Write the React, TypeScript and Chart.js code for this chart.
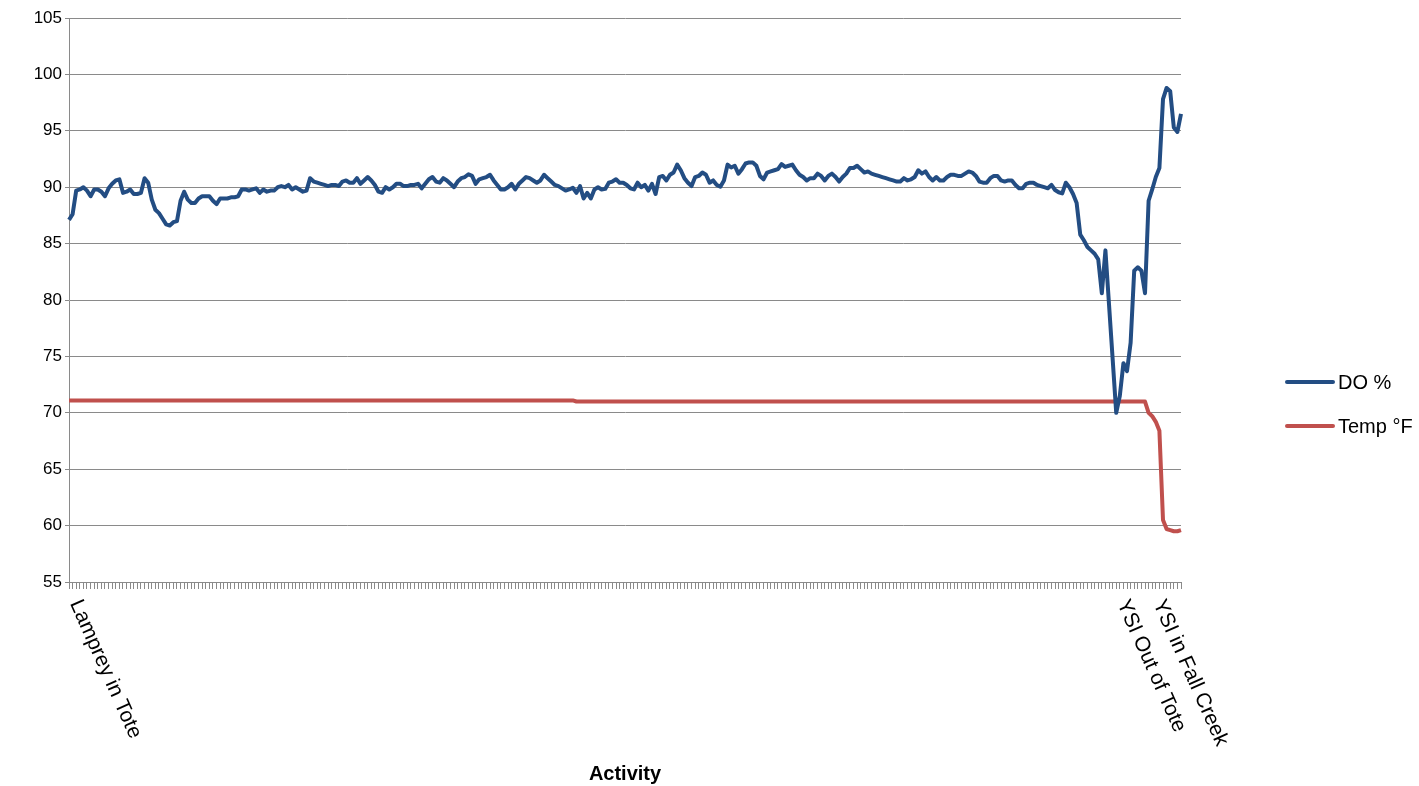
import React, { useEffect, useRef } from "react";
import { Chart, registerables } from "chart.js";

Chart.register(...registerables);

// Dissolved oxygen (%) per logged activity step
const DO_PERCENT: number[] = [
  87.1, 87.6, 89.7, 89.8, 90.0, 89.7, 89.2, 89.8, 89.8, 89.6,
  89.2, 89.9, 90.3, 90.6, 90.7, 89.5, 89.6, 89.8, 89.4, 89.4,
  89.5, 90.8, 90.4, 88.9, 88.0, 87.7, 87.2, 86.7, 86.6, 86.9,
  87.0, 88.8, 89.6, 88.9, 88.6, 88.6, 89.0, 89.2, 89.2, 89.2,
  88.8, 88.5, 89.0, 89.0, 89.0, 89.1, 89.1, 89.2, 89.8, 89.8,
  89.7, 89.8, 89.9, 89.5, 89.8, 89.6, 89.7, 89.7, 90.0, 90.1,
  90.0, 90.2, 89.8, 90.0, 89.8, 89.6, 89.7, 90.8, 90.5, 90.4,
  90.3, 90.2, 90.1, 90.2, 90.2, 90.1, 90.5, 90.6, 90.4, 90.4,
  90.8, 90.3, 90.6, 90.9, 90.6, 90.2, 89.6, 89.5, 90.0, 89.8,
  90.0, 90.3, 90.3, 90.1, 90.1, 90.2, 90.2, 90.3, 89.9, 90.3,
  90.7, 90.9, 90.5, 90.4, 90.8, 90.6, 90.3, 90.0, 90.5, 90.8,
  90.9, 91.15, 91.0, 90.3, 90.7, 90.8, 90.9, 91.1, 90.6, 90.2,
  89.8, 89.8, 90.0, 90.3, 89.8, 90.3, 90.6, 90.9, 90.8, 90.6,
  90.4, 90.6, 91.1, 90.8, 90.5, 90.2, 90.1, 89.9, 89.7, 89.8,
  89.95, 89.5, 90.1, 89.0, 89.5, 89.0, 89.8, 90.0, 89.8, 89.85,
  90.4, 90.5, 90.7, 90.4, 90.4, 90.2, 89.9, 89.8, 90.4, 90.0,
  90.2, 89.7, 90.3, 89.4, 90.9, 91.0, 90.6, 91.1, 91.3, 92.0,
  91.5, 90.8, 90.4, 90.1, 90.9, 91.0, 91.3, 91.1, 90.4, 90.6,
  90.2, 90.05, 90.6, 92.0, 91.75, 91.9, 91.2, 91.6, 92.1, 92.2,
  92.2, 91.9, 91.0, 90.7, 91.3, 91.4, 91.5, 91.6, 92.05, 91.8,
  91.9, 92.0, 91.5, 91.1, 90.9, 90.6, 90.8, 90.8, 91.2, 91.0,
  90.6, 91.0, 91.2, 90.9, 90.5, 90.9, 91.2, 91.7, 91.7, 91.9,
  91.6, 91.3, 91.4, 91.2, 91.1, 91.0, 90.9, 90.8, 90.7, 90.6,
  90.5, 90.5, 90.8, 90.6, 90.7, 90.9, 91.5, 91.2, 91.4, 90.9,
  90.6, 90.9, 90.6, 90.6, 90.9, 91.1, 91.1, 91.0, 91.0, 91.2,
  91.4, 91.3, 91.0, 90.5, 90.4, 90.4, 90.8, 91.0, 91.0, 90.6,
  90.5, 90.6, 90.6, 90.2, 89.9, 89.9, 90.3, 90.4, 90.4, 90.2,
  90.1, 90.0, 89.9, 90.2, 89.75, 89.55, 89.45, 90.4, 90.0, 89.4,
  88.6, 85.8, 85.3, 84.7, 84.4, 84.1, 83.6, 80.6, 84.4, 79.6,
  74.8, 70.0, 71.5, 74.4, 73.7, 76.2, 82.6, 82.9, 82.6, 80.6,
  88.8, 89.8, 90.9, 91.7, 97.8, 98.8, 98.5, 95.3, 94.9, 96.5,
];

// Water temperature (°F) per logged activity step
const TEMP_F: number[] = [
  71.1, 71.1, 71.1, 71.1, 71.1, 71.1, 71.1, 71.1, 71.1, 71.1, 71.1, 71.1, 71.1, 71.1, 71.1, 71.1, 71.1, 71.1, 71.1, 71.1,
  71.1, 71.1, 71.1, 71.1, 71.1, 71.1, 71.1, 71.1, 71.1, 71.1, 71.1, 71.1, 71.1, 71.1, 71.1, 71.1, 71.1, 71.1, 71.1, 71.1,
  71.1, 71.1, 71.1, 71.1, 71.1, 71.1, 71.1, 71.1, 71.1, 71.1, 71.1, 71.1, 71.1, 71.1, 71.1, 71.1, 71.1, 71.1, 71.1, 71.1,
  71.1, 71.1, 71.1, 71.1, 71.1, 71.1, 71.1, 71.1, 71.1, 71.1, 71.1, 71.1, 71.1, 71.1, 71.1, 71.1, 71.1, 71.1, 71.1, 71.1,
  71.1, 71.1, 71.1, 71.1, 71.1, 71.1, 71.1, 71.1, 71.1, 71.1, 71.1, 71.1, 71.1, 71.1, 71.1, 71.1, 71.1, 71.1, 71.1, 71.1,
  71.1, 71.1, 71.1, 71.1, 71.1, 71.1, 71.1, 71.1, 71.1, 71.1, 71.1, 71.1, 71.1, 71.1, 71.1, 71.1, 71.1, 71.1, 71.1, 71.1,
  71.1, 71.1, 71.1, 71.1, 71.1, 71.1, 71.1, 71.1, 71.1, 71.1, 71.1, 71.1, 71.1, 71.1, 71.1, 71.1, 71.1, 71.1, 71.1, 71.1,
  71.1,
  71.0, 71.0, 71.0, 71.0, 71.0, 71.0, 71.0, 71.0, 71.0, 71.0, 71.0, 71.0, 71.0, 71.0, 71.0, 71.0, 71.0, 71.0, 71.0, 71.0,
  71.0, 71.0, 71.0, 71.0, 71.0, 71.0, 71.0, 71.0, 71.0, 71.0, 71.0, 71.0, 71.0, 71.0, 71.0, 71.0, 71.0, 71.0, 71.0, 71.0,
  71.0, 71.0, 71.0, 71.0, 71.0, 71.0, 71.0, 71.0, 71.0, 71.0, 71.0, 71.0, 71.0, 71.0, 71.0, 71.0, 71.0, 71.0, 71.0, 71.0,
  71.0, 71.0, 71.0, 71.0, 71.0, 71.0, 71.0, 71.0, 71.0, 71.0, 71.0, 71.0, 71.0, 71.0, 71.0, 71.0, 71.0, 71.0, 71.0, 71.0,
  71.0, 71.0, 71.0, 71.0, 71.0, 71.0, 71.0, 71.0, 71.0, 71.0, 71.0, 71.0, 71.0, 71.0, 71.0, 71.0, 71.0, 71.0, 71.0, 71.0,
  71.0, 71.0, 71.0, 71.0, 71.0, 71.0, 71.0, 71.0, 71.0, 71.0, 71.0, 71.0, 71.0, 71.0, 71.0, 71.0, 71.0, 71.0, 71.0, 71.0,
  71.0, 71.0, 71.0, 71.0, 71.0, 71.0, 71.0, 71.0, 71.0, 71.0, 71.0, 71.0, 71.0, 71.0, 71.0, 71.0, 71.0, 71.0, 71.0, 71.0,
  71.0, 71.0, 71.0, 71.0, 71.0, 71.0, 71.0, 71.0, 71.0, 71.0, 71.0, 71.0, 71.0, 71.0, 71.0, 71.0, 71.0, 71.0, 71.0,
  70.0, 69.7, 69.2, 68.4, 60.5, 59.7, 59.6, 59.5, 59.5, 59.6,
];

// Activity markers: category index -> label (all other categories unlabeled)
const ACTIVITY_INDEX: number[] = [0, 291, 301];
const ACTIVITY_TEXT: string[] = ["Lamprey in Tote", "YSI Out of Tote", "YSI in Fall Creek"];

const SERIES_NAMES: string[] = ["DO %", "Temp °F"];
const SERIES_COLORS: string[] = ["#234d83", "#c0504d"];

const Y_MIN = 55;
const Y_MAX = 105;
const Y_STEP = 5;

const FONT = "'Liberation Sans', Arial, sans-serif";
const GRID = "#8a8a8a";

export default function App() {
  const canvasRef = useRef<HTMLCanvasElement | null>(null);

  useEffect(() => {
    document.body.style.margin = "0";
    const canvas = canvasRef.current;
    if (!canvas) return;

    const labels = DO_PERCENT.map((_, i) => {
      const k = ACTIVITY_INDEX.indexOf(i);
      return k >= 0 ? ACTIVITY_TEXT[k] : "";
    });

    const overlay = {
      id: "excelOverlay",
      afterDraw(chart: any) {
        const ctx = chart.ctx;
        const xs = chart.scales.x;
        ctx.save();
        ctx.fillStyle = "#000";
        ctx.font = `21px ${FONT}`;
        ctx.textAlign = "left";
        ctx.textBaseline = "middle";
        ACTIVITY_INDEX.forEach((idx, k) => {
          const px = xs.getPixelForValue(idx);
          ctx.save();
          ctx.translate(px + 6, xs.top + 19);
          ctx.rotate((66 * Math.PI) / 180);
          ctx.fillText(ACTIVITY_TEXT[k], 0, 0);
          ctx.restore();
        });
        // legend
        ctx.font = `20px ${FONT}`;
        ctx.textBaseline = "middle";
        SERIES_NAMES.forEach((name, k) => {
          const y = 382 + k * 44;
          ctx.strokeStyle = SERIES_COLORS[k];
          ctx.lineWidth = 4;
          ctx.lineCap = "round";
          ctx.beginPath();
          ctx.moveTo(1287, y);
          ctx.lineTo(1333, y);
          ctx.stroke();
          ctx.fillStyle = "#000";
          ctx.fillText(name, 1338, y + 1);
        });
        ctx.restore();
      },
    };

    const chart = new Chart(canvas, {
      type: "line",
      data: {
        labels,
        datasets: [
          {
            label: SERIES_NAMES[0],
            data: DO_PERCENT,
            borderColor: SERIES_COLORS[0],
            borderWidth: 4,
            pointRadius: 0,
            tension: 0,
            borderJoinStyle: "round",
          },
          {
            label: SERIES_NAMES[1],
            data: TEMP_F,
            borderColor: SERIES_COLORS[1],
            borderWidth: 4,
            pointRadius: 0,
            tension: 0,
            borderJoinStyle: "round",
          },
        ],
      },
      options: {
        animation: false,
        responsive: true,
        maintainAspectRatio: false,
        layout: { padding: { top: 18, right: 238, left: 0, bottom: 0 } },
        plugins: {
          legend: { display: false },
          tooltip: { enabled: false },
        },
        scales: {
          x: {
            type: "category",
            offset: false,
            grid: {
              display: true,
              drawOnChartArea: false,
              drawTicks: true,
              tickLength: 7,
              color: GRID,
              offset: false,
            },
            border: { display: true, color: GRID, width: 1 },
            ticks: { display: false, autoSkip: false },
            title: {
              display: true,
              text: "Activity",
              color: "#000",
              font: { family: FONT, size: 20, weight: "bold" },
              padding: { top: 0, bottom: 0 },
            },
            afterFit(scale: any) {
              scale.height = 204;
            },
          },
          y: {
            min: Y_MIN,
            max: Y_MAX,
            ticks: {
              stepSize: Y_STEP,
              color: "#000",
              padding: 3,
              font: { family: FONT, size: 17 },
            },
            grid: { color: GRID, tickLength: 4, lineWidth: 1 },
            border: { display: true, color: GRID, width: 1 },
            afterFit(scale: any) {
              scale.width = 69;
            },
          },
        },
      },
      plugins: [overlay],
    });

    return () => chart.destroy();
  }, []);

  return (
    <div style={{ width: 1419, height: 786, position: "relative" }}>
      <canvas ref={canvasRef} />
    </div>
  );
}
